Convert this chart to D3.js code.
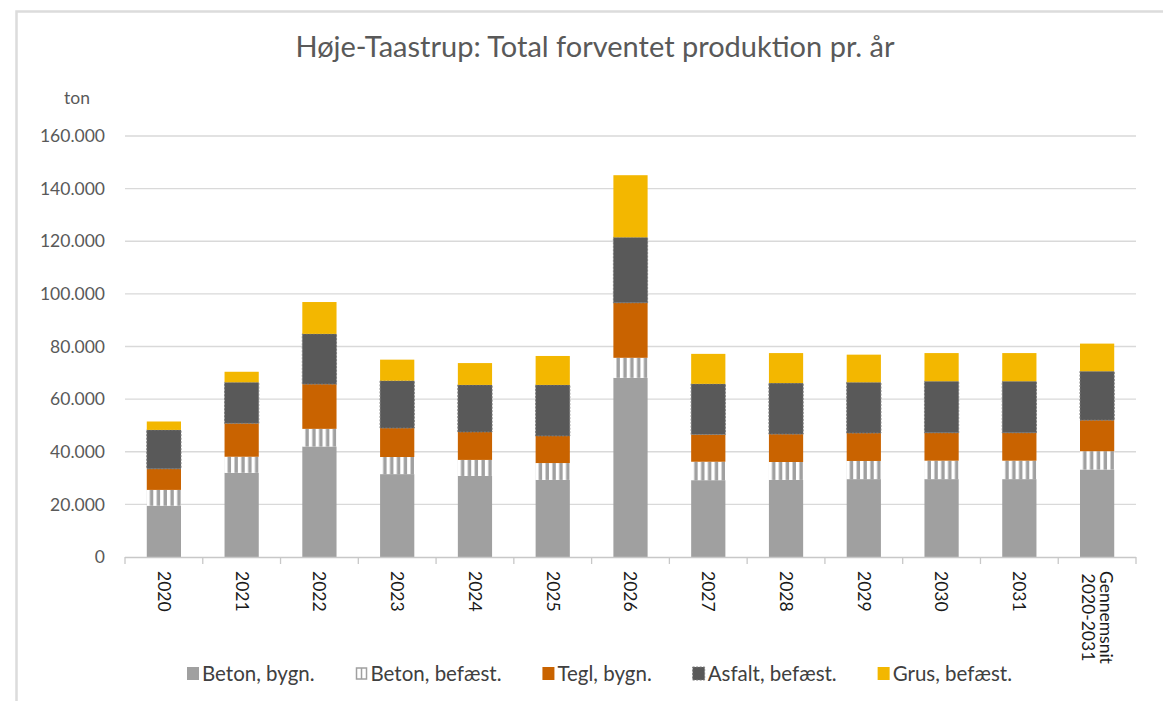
<!DOCTYPE html>
<html>
<head>
<meta charset="utf-8">
<script src="https://cdn.jsdelivr.net/npm/d3@7/dist/d3.min.js"></script>
<style>
  body { margin: 0; background: #fff; }
  svg { display: block; }
  text { font-family: Lato, "Open Sans", sans-serif; }
</style>
</head>
<body>
<div id="chart"></div>
<script>
// data (ton)
var categories = ["2020", "2021", "2022", "2023", "2024", "2025", "2026", "2027", "2028", "2029", "2030", "2031", "Gennemsnit|2020-2031"];
var betonBygn   = [19500, 32000, 42000, 31500, 30800, 29300, 68100, 29200, 29300, 29600, 29600, 29600, 33250];
var betonBefaest = [6000, 6100, 6700, 6500, 6100, 6400, 7600, 7000, 6800, 6900, 7000, 7000, 6950];
var teglBygn    = [8000, 12700, 17000, 11000, 10600, 10300, 20900, 10350, 10600, 10600, 10600, 10600, 11800];
var asfaltBefaest = [14800, 15600, 19100, 18000, 17900, 19400, 24900, 19250, 19400, 19300, 19600, 19600, 18600];
var grusBefaest = [3200, 4000, 12100, 8000, 8300, 11000, 23600, 11400, 11400, 10500, 10700, 10700, 10500];
var seriesNames = ["Beton, bygn.", "Beton, befæst.", "Tegl, bygn.", "Asfalt, befæst.", "Grus, befæst."];
var yTicks = [0, 20000, 40000, 60000, 80000, 100000, 120000, 140000, 160000];

var keys = ["b1", "b2", "tegl", "asfalt", "grus"];
var colors = { b1: "#A0A0A0", b2: "#A0A0A0", tegl: "#C96300", asfalt: "#595959", grus: "#F3B700" };

var width = 1163, height = 701;
var svg = d3.select("#chart").append("svg")
  .attr("width", width)
  .attr("height", height);

// chart frame
svg.append("rect")
  .attr("x", 16.5).attr("y", 11.5)
  .attr("width", width + 20).attr("height", height + 20)
  .attr("fill", "none")
  .attr("stroke", "#dcdcdc")
  .attr("stroke-width", 2.5);

// build rows for the stack
var rows = categories.map(function (c, i) {
  return { cat: c, b1: betonBygn[i], b2: betonBefaest[i], tegl: teglBygn[i], asfalt: asfaltBefaest[i], grus: grusBefaest[i] };
});
var stacked = d3.stack().keys(keys)(rows);

var x = d3.scaleBand()
  .domain(categories)
  .range([125, 1136])
  .paddingInner(0.56)
  .paddingOuter(0.28);

var y = d3.scaleLinear()
  .domain([0, 160000])
  .range([557, 136]);

var fmt = function (d) {
  return d === 0 ? "0" : d3.format(",")(d).replace(/,/g, ".");
};

// gridlines
svg.append("g")
  .selectAll("line")
  .data(yTicks.filter(function (d) { return d > 0; }))
  .enter()
  .append("line")
  .attr("x1", 125).attr("x2", 1136)
  .attr("y1", function (d) { return y(d); })
  .attr("y2", function (d) { return y(d); })
  .attr("stroke", "#d9d9d9")
  .attr("stroke-width", 1.3);

// y tick labels
svg.append("g")
  .selectAll("text")
  .data(yTicks)
  .enter()
  .append("text")
  .attr("x", 105)
  .attr("y", function (d) { return y(d); })
  .attr("dy", "0.35em")
  .attr("text-anchor", "end")
  .attr("fill", "#595959")
  .style("font-size", "17.5px")
  .text(fmt);

// pattern for "Beton, befæst." - one per bar so stripes line up
var defs = svg.append("defs");
var bw = x.bandwidth();
categories.forEach(function (c, i) {
  var p = defs.append("pattern")
    .attr("id", "stripe" + i)
    .attr("patternUnits", "userSpaceOnUse")
    .attr("x", x(c) + bw * 0.19)
    .attr("y", 0)
    .attr("width", bw / 5)
    .attr("height", 10);
  p.append("rect").attr("width", bw / 5).attr("height", 10).attr("fill", "#A0A0A0");
  p.append("rect").attr("width", bw / 10).attr("height", 10).attr("fill", "#ffffff");
});

// bars
var layer = svg.append("g")
  .selectAll("g")
  .data(stacked)
  .enter()
  .append("g");

layer.selectAll("rect")
  .data(function (d) { return d.map(function (v, i) { v.key = d.key; v.i = i; return v; }); })
  .enter()
  .append("rect")
  .attr("x", function (d) { return x(d.data.cat); })
  .attr("y", function (d) { return y(d[1]); })
  .attr("width", bw)
  .attr("height", function (d) { return y(d[0]) - y(d[1]); })
  .attr("fill", function (d) { return d.key === "b2" ? "url(#stripe" + d.i + ")" : colors[d.key]; })
  .attr("stroke", function (d) { return d.key === "asfalt" ? "#7d7d7d" : "none"; })
  .attr("stroke-dasharray", "2 1.5")
  .attr("stroke-width", 1);

// x axis line and ticks
svg.append("line")
  .attr("x1", 125).attr("x2", 1136)
  .attr("y1", 557.5).attr("y2", 557.5)
  .attr("stroke", "#c8c8c8")
  .attr("stroke-width", 1.3);

var step = x.step();
svg.append("g")
  .selectAll("line")
  .data(d3.range(categories.length + 1))
  .enter()
  .append("line")
  .attr("x1", function (d) { return 125 + d * step; })
  .attr("x2", function (d) { return 125 + d * step; })
  .attr("y1", 557).attr("y2", 564)
  .attr("stroke", "#c8c8c8")
  .attr("stroke-width", 1.3);

// x labels, rotated to read downward
var xl = svg.append("g")
  .selectAll("g")
  .data(categories)
  .enter()
  .append("g")
  .attr("transform", function (d) { return "translate(" + (x(d) + bw / 2) + ",571) rotate(90)"; });

xl.each(function (d) {
  var g = d3.select(this);
  var lines = d.split("|");
  var t = g.selectAll("text")
    .data(lines)
    .enter()
    .append("text")
    .attr("y", function (l, j) { return (j - (lines.length - 1) / 2) * 18; })
    .attr("dy", "0.35em")
    .attr("fill", "#1a1a1a")
    .style("font-size", "17.5px")
    .text(function (l) { return l; });
  var maxLen = 0;
  t.each(function () { maxLen = Math.max(maxLen, this.getComputedTextLength()); });
  t.attr("x", maxLen / 2).attr("text-anchor", "middle");
});

// title
svg.append("text")
  .attr("x", 595)
  .attr("y", 57)
  .attr("text-anchor", "middle")
  .attr("fill", "#595959")
  .style("font-size", "29px")
  .text("Høje-Taastrup: Total forventet produktion pr. år");

// unit
svg.append("text")
  .attr("x", 77)
  .attr("y", 104)
  .attr("text-anchor", "middle")
  .attr("fill", "#595959")
  .style("font-size", "17.5px")
  .text("ton");

// legend
var leg = svg.append("g");
var items = leg.selectAll("g")
  .data(seriesNames)
  .enter()
  .append("g");

items.append("text")
  .attr("x", 15)
  .attr("y", 674)
  .attr("dy", "0.35em")
  .attr("fill", "#404040")
  .style("font-size", "20.5px")
  .text(function (d) { return d; });

var itemW = [];
items.each(function () { itemW.push(15 + d3.select(this).select("text").node().getComputedTextLength()); });
var span = 1012 - 187;
var gap = (span - d3.sum(itemW)) / (seriesNames.length - 1);
var pos = 187;
items.attr("transform", function (d, i) {
  var tx = pos;
  pos += itemW[i] + gap;
  return "translate(" + tx + ",0)";
});

items.each(function (d, i) {
  var g = d3.select(this);
  if (i === 1) {
    g.insert("rect", "text").attr("x", 1).attr("y", 668).attr("width", 10).attr("height", 11)
      .attr("fill", "#fff").attr("stroke", "#A0A0A0").attr("stroke-width", 1.5);
    g.insert("line", "text").attr("x1", 6).attr("x2", 6).attr("y1", 668).attr("y2", 679)
      .attr("stroke", "#A0A0A0").attr("stroke-width", 1.5);
  } else {
    g.insert("rect", "text").attr("x", 0).attr("y", 667).attr("width", 12).attr("height", 13)
      .attr("fill", colors[keys[i]])
      .attr("stroke", i === 3 ? "#7d7d7d" : "none")
      .attr("stroke-dasharray", "2 1.5");
  }
});
</script>
</body>
</html>
